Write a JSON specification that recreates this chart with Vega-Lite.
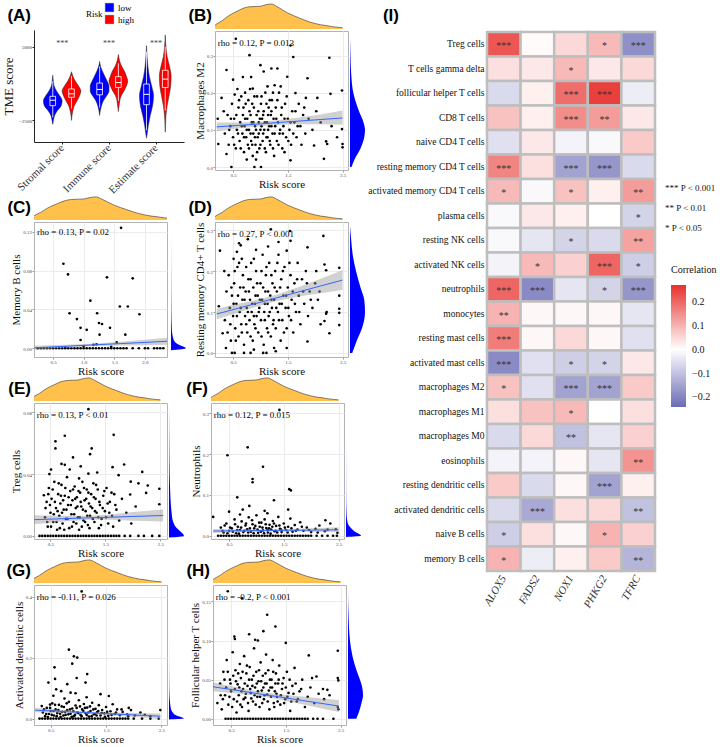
{
"$schema": "https://vega.github.io/schema/vega-lite/v6.json",
"background": "white",
"padding": {"left": 2, "top": 3, "right": 0, "bottom": 0},
"config": {
 "font": "Liberation Serif",
 "view": {"stroke": "#B3B3B3"},
 "axis": {"labelFont": "Liberation Serif", "titleFont": "Liberation Serif", "titleFontWeight": "normal", "titleColor": "#111111", "labelColor": "#4D4D4D", "labelFontSize": 5, "titleFontSize": 11, "tickSize": 2, "tickColor": "#999999", "domain": false, "gridColor": "#EBEBEB", "labelPadding": 0.5, "titlePadding": 1},
 "title": {"font": "Liberation Sans", "fontSize": 17, "fontWeight": "bold", "color": "black"},
 "legend": {"labelFont": "Liberation Serif", "titleFont": "Liberation Serif", "titleFontWeight": "normal"}
},
"resolve": {"scale": {"color": "independent", "fill": "independent"}, "legend": {"color": "independent", "fill": "independent"}},
"datasets": {
 "risk": [{"x":0.17,"d":0.15},{"x":0.2,"d":0.2},{"x":0.3,"d":0.33},{"x":0.4,"d":0.5},{"x":0.5,"d":0.63},{"x":0.6,"d":0.74},{"x":0.7,"d":0.84},{"x":0.8,"d":0.89},{"x":0.9,"d":0.9},{"x":1.0,"d":0.91},{"x":1.1,"d":0.97},{"x":1.2,"d":1.0},{"x":1.3,"d":0.9},{"x":1.4,"d":0.77},{"x":1.5,"d":0.64},{"x":1.6,"d":0.54},{"x":1.7,"d":0.45},{"x":1.8,"d":0.36},{"x":1.9,"d":0.28},{"x":2.0,"d":0.22},{"x":2.1,"d":0.17},{"x":2.2,"d":0.14},{"x":2.3,"d":0.1},{"x":2.4,"d":0.07},{"x":2.5,"d":0.05}],
 "violin": [
  {"v":"Sl","r":"low","y":-2900,"a":0.8,"b":0.8},{"v":"Sl","r":"low","y":-2500,"a":0.785,"b":0.815},{"v":"Sl","r":"low","y":-2000,"a":0.76,"b":0.84},{"v":"Sl","r":"low","y":-1500,"a":0.7,"b":0.9},{"v":"Sl","r":"low","y":-1000,"a":0.62,"b":0.98},{"v":"Sl","r":"low","y":-500,"a":0.6,"b":1.0},{"v":"Sl","r":"low","y":0,"a":0.65,"b":0.95},{"v":"Sl","r":"low","y":500,"a":0.72,"b":0.88},{"v":"Sl","r":"low","y":1000,"a":0.77,"b":0.83},{"v":"Sl","r":"low","y":1500,"a":0.788,"b":0.812},{"v":"Sl","r":"low","y":2100,"a":0.8,"b":0.8},
  {"v":"Sh","r":"high","y":-2500,"a":1.2,"b":1.2},{"v":"Sh","r":"high","y":-2000,"a":1.19,"b":1.21},{"v":"Sh","r":"high","y":-1500,"a":1.17,"b":1.23},{"v":"Sh","r":"high","y":-1000,"a":1.14,"b":1.26},{"v":"Sh","r":"high","y":-500,"a":1.08,"b":1.32},{"v":"Sh","r":"high","y":0,"a":1.03,"b":1.37},{"v":"Sh","r":"high","y":500,"a":1.0,"b":1.4},{"v":"Sh","r":"high","y":1000,"a":1.05,"b":1.35},{"v":"Sh","r":"high","y":1500,"a":1.12,"b":1.28},{"v":"Sh","r":"high","y":2000,"a":1.17,"b":1.23},{"v":"Sh","r":"high","y":2450,"a":1.2,"b":1.2},
  {"v":"Il","r":"low","y":-2000,"a":1.8,"b":1.8},{"v":"Il","r":"low","y":-1500,"a":1.785,"b":1.815},{"v":"Il","r":"low","y":-1000,"a":1.76,"b":1.84},{"v":"Il","r":"low","y":-500,"a":1.72,"b":1.88},{"v":"Il","r":"low","y":0,"a":1.65,"b":1.95},{"v":"Il","r":"low","y":500,"a":1.6,"b":2.0},{"v":"Il","r":"low","y":1000,"a":1.6,"b":2.0},{"v":"Il","r":"low","y":1500,"a":1.64,"b":1.96},{"v":"Il","r":"low","y":2000,"a":1.69,"b":1.91},{"v":"Il","r":"low","y":2500,"a":1.74,"b":1.86},{"v":"Il","r":"low","y":3000,"a":1.78,"b":1.82},{"v":"Il","r":"low","y":3500,"a":1.8,"b":1.8},
  {"v":"Ih","r":"high","y":-1600,"a":2.2,"b":2.2},{"v":"Ih","r":"high","y":-1000,"a":2.185,"b":2.215},{"v":"Ih","r":"high","y":-500,"a":2.17,"b":2.23},{"v":"Ih","r":"high","y":0,"a":2.14,"b":2.26},{"v":"Ih","r":"high","y":500,"a":2.08,"b":2.32},{"v":"Ih","r":"high","y":1000,"a":2.03,"b":2.37},{"v":"Ih","r":"high","y":1500,"a":2.0,"b":2.4},{"v":"Ih","r":"high","y":2000,"a":2.03,"b":2.37},{"v":"Ih","r":"high","y":2500,"a":2.07,"b":2.33},{"v":"Ih","r":"high","y":3000,"a":2.13,"b":2.27},{"v":"Ih","r":"high","y":3500,"a":2.17,"b":2.23},{"v":"Ih","r":"high","y":4200,"a":2.2,"b":2.2},
  {"v":"El","r":"low","y":-4300,"a":2.8,"b":2.8},{"v":"El","r":"low","y":-4000,"a":2.79,"b":2.81},{"v":"El","r":"low","y":-3000,"a":2.76,"b":2.84},{"v":"El","r":"low","y":-2000,"a":2.72,"b":2.88},{"v":"El","r":"low","y":-1000,"a":2.67,"b":2.93},{"v":"El","r":"low","y":0,"a":2.65,"b":2.95},{"v":"El","r":"low","y":1000,"a":2.69,"b":2.91},{"v":"El","r":"low","y":2000,"a":2.74,"b":2.86},{"v":"El","r":"low","y":3000,"a":2.77,"b":2.83},{"v":"El","r":"low","y":4000,"a":2.788,"b":2.812},{"v":"El","r":"low","y":5100,"a":2.8,"b":2.8},
  {"v":"Eh","r":"high","y":-3700,"a":3.2,"b":3.2},{"v":"Eh","r":"high","y":-3000,"a":3.195,"b":3.205},{"v":"Eh","r":"high","y":-2000,"a":3.185,"b":3.215},{"v":"Eh","r":"high","y":-1000,"a":3.16,"b":3.24},{"v":"Eh","r":"high","y":0,"a":3.12,"b":3.28},{"v":"Eh","r":"high","y":1000,"a":3.085,"b":3.315},{"v":"Eh","r":"high","y":2000,"a":3.075,"b":3.325},{"v":"Eh","r":"high","y":3000,"a":3.11,"b":3.29},{"v":"Eh","r":"high","y":4000,"a":3.16,"b":3.24},{"v":"Eh","r":"high","y":5000,"a":3.185,"b":3.215},{"v":"Eh","r":"high","y":6200,"a":3.2,"b":3.2}
 ],
 "box": [
  {"v":"Sl","xc":0.8,"xa":0.74,"xb":0.86,"q1":-1000,"q3":-50,"md":-450,"lo":-2200,"hi":1500},
  {"v":"Sh","xc":1.2,"xa":1.14,"xb":1.26,"q1":-150,"q3":700,"md":200,"lo":-1300,"hi":2000},
  {"v":"Il","xc":1.8,"xa":1.74,"xb":1.86,"q1":100,"q3":1300,"md":650,"lo":-1200,"hi":3000},
  {"v":"Ih","xc":2.2,"xa":2.14,"xb":2.26,"q1":850,"q3":1950,"md":1350,"lo":-500,"hi":3300},
  {"v":"El","xc":2.8,"xa":2.74,"xb":2.86,"q1":-900,"q3":1200,"md":150,"lo":-3500,"hi":4500},
  {"v":"Eh","xc":3.2,"xa":3.14,"xb":3.26,"q1":850,"q3":2600,"md":1700,"lo":-1500,"hi":5000}
 ],
 "stars": [{"gi":1,"t":"***"},{"gi":2,"t":"***"},{"gi":3,"t":"***"}],
 "B": [{"x":0.55,"y":0.345},{"x":1.55,"y":0.327},{"x":0.8,"y":0.301},{"x":1.6,"y":0.296},{"x":2.26,"y":0.294},{"x":0.38,"y":0.261},{"x":0.5,"y":0.235},{"x":0.68,"y":0.242},{"x":0.83,"y":0.242},{"x":1.06,"y":0.257},{"x":1.2,"y":0.265},{"x":1.31,"y":0.265},{"x":1.0,"y":0.274},{"x":1.49,"y":0.243},{"x":1.86,"y":0.239},{"x":2.49,"y":0.206},{"x":2.28,"y":0.197},{"x":0.29,"y":0.186},{"x":0.53,"y":0.195},{"x":0.86,"y":0.211},{"x":1.13,"y":0.217},{"x":1.37,"y":0.217},{"x":1.64,"y":0.199},{"x":1.83,"y":0.186},{"x":2.04,"y":0.186},{"x":2.49,"y":0.102},{"x":2.5,"y":0.062},{"x":2.5,"y":0.053},{"x":2.2,"y":0.069},{"x":2.22,"y":0.062},{"x":1.98,"y":0.058},{"x":2.16,"y":0.022},{"x":1.55,"y":0.018},{"x":0.47,"y":0.0},{"x":0.89,"y":0.0},{"x":1.01,"y":0.0},{"x":0.23,"y":0.062},{"x":0.38,"y":0.035},{"x":0.22,"y":0.13},
  {"x":0.35,"y":0.09},{"x":0.4,"y":0.14},{"x":0.42,"y":0.06},{"x":0.45,"y":0.11},{"x":0.48,"y":0.17},{"x":0.5,"y":0.08},{"x":0.52,"y":0.13},{"x":0.55,"y":0.05},{"x":0.57,"y":0.1},{"x":0.6,"y":0.16},{"x":0.62,"y":0.07},{"x":0.63,"y":0.12},{"x":0.65,"y":0.19},{"x":0.67,"y":0.09},{"x":0.68,"y":0.14},{"x":0.7,"y":0.04},{"x":0.71,"y":0.11},{"x":0.73,"y":0.17},{"x":0.74,"y":0.08},{"x":0.76,"y":0.13},{"x":0.77,"y":0.06},{"x":0.79,"y":0.1},{"x":0.8,"y":0.15},{"x":0.81,"y":0.21},{"x":0.83,"y":0.07},{"x":0.84,"y":0.12},{"x":0.86,"y":0.03},{"x":0.87,"y":0.09},{"x":0.88,"y":0.16},{"x":0.9,"y":0.11},{"x":0.91,"y":0.06},{"x":0.93,"y":0.14},{"x":0.94,"y":0.19},{"x":0.95,"y":0.08},{"x":0.97,"y":0.12},{"x":0.98,"y":0.05},{"x":1.0,"y":0.1},{"x":1.01,"y":0.17},{"x":1.03,"y":0.13},{"x":1.04,"y":0.07},{"x":1.06,"y":0.15},{"x":1.07,"y":0.1},{"x":1.09,"y":0.2},{"x":1.1,"y":0.04},{"x":1.12,"y":0.12},{"x":1.13,"y":0.08},{"x":1.15,"y":0.16},{"x":1.16,"y":0.11},{"x":1.18,"y":0.06},{"x":1.19,"y":0.14},{"x":1.21,"y":0.18},{"x":1.22,"y":0.09},{"x":1.24,"y":0.13},{"x":1.25,"y":0.03},{"x":1.27,"y":0.11},{"x":1.28,"y":0.16},{"x":1.3,"y":0.07},{"x":1.32,"y":0.12},{"x":1.34,"y":0.2},{"x":1.35,"y":0.09},{"x":1.38,"y":0.14},{"x":1.4,"y":0.05},{"x":1.42,"y":0.11},{"x":1.45,"y":0.17},{"x":1.47,"y":0.08},{"x":1.5,"y":0.13},{"x":1.53,"y":0.1},{"x":1.56,"y":0.06},{"x":1.58,"y":0.15},{"x":1.62,"y":0.12},{"x":1.66,"y":0.08},{"x":1.7,"y":0.17},{"x":1.73,"y":0.11},{"x":1.78,"y":0.14},{"x":1.82,"y":0.09},{"x":1.88,"y":0.13},{"x":1.95,"y":0.1},{"x":2.02,"y":0.15},{"x":2.1,"y":0.12},{"x":2.3,"y":0.11},{"x":2.4,"y":0.08},{"x":0.33,"y":0.15},{"x":0.58,"y":0.21},{"x":0.92,"y":0.02},{"x":1.26,"y":0.22},{"x":0.72,"y":0.2},{"x":1.44,"y":0.04},
  {"x":0.52,"y":0.06},{"x":0.56,"y":0.14},{"x":0.59,"y":0.09},{"x":0.61,"y":0.18},{"x":0.64,"y":0.05},{"x":0.66,"y":0.11},{"x":0.69,"y":0.16},{"x":0.7,"y":0.08},{"x":0.72,"y":0.13},{"x":0.75,"y":0.02},{"x":0.75,"y":0.1},{"x":0.78,"y":0.18},{"x":0.79,"y":0.05},{"x":0.82,"y":0.09},{"x":0.82,"y":0.14},{"x":0.85,"y":0.17},{"x":0.85,"y":0.06},{"x":0.87,"y":0.12},{"x":0.89,"y":0.19},{"x":0.9,"y":0.08},{"x":0.92,"y":0.1},{"x":0.94,"y":0.04},{"x":0.96,"y":0.15},{"x":0.97,"y":0.09},{"x":0.99,"y":0.13},{"x":1.0,"y":0.06},{"x":1.02,"y":0.11},{"x":1.02,"y":0.19},{"x":1.05,"y":0.09},{"x":1.05,"y":0.14},{"x":1.08,"y":0.05},{"x":1.08,"y":0.12},{"x":1.11,"y":0.17},{"x":1.11,"y":0.08},{"x":1.14,"y":0.1},{"x":1.14,"y":0.14},{"x":1.17,"y":0.18},{"x":1.17,"y":0.07},{"x":1.2,"y":0.11},{"x":1.2,"y":0.15},{"x":1.23,"y":0.05},{"x":1.23,"y":0.2},{"x":1.26,"y":0.09},{"x":1.29,"y":0.13},{"x":1.31,"y":0.18},{"x":1.33,"y":0.06},{"x":1.36,"y":0.1},{"x":1.39,"y":0.16},{"x":1.41,"y":0.09},{"x":1.44,"y":0.13},{"x":1.48,"y":0.19},{"x":1.51,"y":0.07},{"x":1.55,"y":0.12},{"x":1.6,"y":0.09},{"x":1.64,"y":0.15},{"x":1.68,"y":0.11},{"x":1.75,"y":0.06},{"x":1.8,"y":0.16},{"x":0.46,"y":0.13},{"x":0.43,"y":0.1}],
 "Bf": [{"x":0.2,"y":0.108,"lo":0.096,"hi":0.12},{"x":0.6,"y":0.112,"lo":0.104,"hi":0.12},{"x":1.0,"y":0.116,"lo":0.11,"hi":0.122},{"x":1.3,"y":0.1195,"lo":0.113,"hi":0.126},{"x":1.7,"y":0.1236,"lo":0.115,"hi":0.133},{"x":2.1,"y":0.1278,"lo":0.115,"hi":0.141},{"x":2.5,"y":0.132,"lo":0.114,"hi":0.152}],
 "Bd": [{"v":0,"d":0.1},{"v":0.02,"d":0.3},{"v":0.05,"d":0.7},{"v":0.08,"d":0.95},{"v":0.1,"d":1.0},{"v":0.12,"d":0.9},{"v":0.15,"d":0.6},{"v":0.18,"d":0.35},{"v":0.2,"d":0.22},{"v":0.25,"d":0.08},{"v":0.3,"d":0.03},{"v":0.35,"d":0.0}],
 "C": [{"x":1.61,"y":0.124},{"x":0.67,"y":0.087},{"x":0.745,"y":0.076},{"x":1.38,"y":0.073},{"x":1.8,"y":0.072},{"x":1.11,"y":0.049},{"x":1.59,"y":0.043},{"x":1.72,"y":0.043},{"x":0.77,"y":0.036},{"x":1.22,"y":0.036},{"x":1.91,"y":0.035},{"x":0.89,"y":0.03},{"x":1.3,"y":0.025},{"x":0.95,"y":0.021},{"x":1.05,"y":0.019},{"x":1.25,"y":0.026},{"x":1.43,"y":0.021},{"x":1.26,"y":0.014},{"x":1.68,"y":0.014},{"x":0.95,"y":0.0085},{"x":1.54,"y":0.006},{"x":1.16,"y":0.0035},{"x":1.21,"y":0.004},{"x":1.0,"y":0.002},{"x":0.7,"y":0.001},{"x":1.45,"y":0.0015},
  {"x":0.25,"y":0},{"x":0.3,"y":0},{"x":0.35,"y":0},{"x":0.4,"y":0},{"x":0.45,"y":0},{"x":0.5,"y":0},{"x":0.55,"y":0},{"x":0.6,"y":0},{"x":0.65,"y":0},{"x":0.7,"y":0},{"x":0.75,"y":0},{"x":0.8,"y":0},{"x":0.85,"y":0},{"x":0.9,"y":0},{"x":0.95,"y":0},{"x":1.0,"y":0},{"x":1.05,"y":0},{"x":1.1,"y":0},{"x":1.15,"y":0},{"x":1.2,"y":0},{"x":1.25,"y":0},{"x":1.3,"y":0},{"x":1.35,"y":0},{"x":1.4,"y":0},{"x":1.45,"y":0},{"x":1.5,"y":0},{"x":1.55,"y":0},{"x":1.6,"y":0},{"x":1.65,"y":0},{"x":1.7,"y":0},{"x":1.8,"y":0},{"x":1.9,"y":0},{"x":2.0,"y":0},{"x":2.05,"y":0},{"x":2.15,"y":0},{"x":2.2,"y":0},{"x":2.25,"y":0},{"x":2.3,"y":0}],
 "Cf": [{"x":0.2,"y":0.0005,"lo":-0.0015,"hi":0.0025},{"x":0.7,"y":0.002,"lo":0.0005,"hi":0.0035},{"x":1.2,"y":0.0036,"lo":0.0022,"hi":0.005},{"x":1.6,"y":0.0048,"lo":0.0028,"hi":0.0068},{"x":2.0,"y":0.006,"lo":0.0032,"hi":0.0088},{"x":2.36,"y":0.0072,"lo":0.0035,"hi":0.0109}],
 "Cd": [{"v":-0.002,"d":0},{"v":0,"d":1.0},{"v":0.002,"d":0.77},{"v":0.005,"d":0.38},{"v":0.01,"d":0.15},{"v":0.02,"d":0.055},{"v":0.04,"d":0.023},{"v":0.08,"d":0.008},{"v":0.125,"d":0}],
 "D": [{"x":0.26,"y":0.25},{"x":0.34,"y":0.2},{"x":0.51,"y":0.23},{"x":0.61,"y":0.268},{"x":0.64,"y":0.263},{"x":0.57,"y":0.247},{"x":0.77,"y":0.278},{"x":0.92,"y":0.252},{"x":1.19,"y":0.302},{"x":1.33,"y":0.271},{"x":1.54,"y":0.298},{"x":1.55,"y":0.274},{"x":1.86,"y":0.258},{"x":2.15,"y":0.286},{"x":2.17,"y":0.216},{"x":2.2,"y":0.202},{"x":2.44,"y":0.208},{"x":2.44,"y":0.14},{"x":2.44,"y":0.108},{"x":2.44,"y":0.098},{"x":2.44,"y":0.068},{"x":2.2,"y":0.096},{"x":2.21,"y":0.1},{"x":2.17,"y":0.078},{"x":0.24,"y":0.114},{"x":0.31,"y":0.048},{"x":0.37,"y":0.012},{"x":0.48,"y":0.0},{"x":0.53,"y":0},{"x":0.7,"y":0},{"x":0.82,"y":0},{"x":1.05,"y":0},{"x":1.11,"y":0},{"x":1.28,"y":0.004},{"x":0.88,"y":0.008},{"x":1.25,"y":0.012},{"x":1.48,"y":0.012},{"x":1.86,"y":0.028},{"x":2.26,"y":0.048},
  {"x":0.35,"y":0.08},{"x":0.38,"y":0.15},{"x":0.4,"y":0.05},{"x":0.42,"y":0.19},{"x":0.44,"y":0.11},{"x":0.46,"y":0.03},{"x":0.48,"y":0.14},{"x":0.5,"y":0.09},{"x":0.52,"y":0.17},{"x":0.54,"y":0.06},{"x":0.56,"y":0.12},{"x":0.58,"y":0.21},{"x":0.6,"y":0.04},{"x":0.62,"y":0.1},{"x":0.63,"y":0.16},{"x":0.65,"y":0.07},{"x":0.67,"y":0.13},{"x":0.68,"y":0.19},{"x":0.7,"y":0.02},{"x":0.72,"y":0.09},{"x":0.73,"y":0.15},{"x":0.75,"y":0.11},{"x":0.76,"y":0.05},{"x":0.78,"y":0.18},{"x":0.8,"y":0.08},{"x":0.81,"y":0.13},{"x":0.83,"y":0.22},{"x":0.84,"y":0.1},{"x":0.86,"y":0.03},{"x":0.87,"y":0.16},{"x":0.89,"y":0.07},{"x":0.9,"y":0.12},{"x":0.92,"y":0.2},{"x":0.93,"y":0.09},{"x":0.95,"y":0.14},{"x":0.96,"y":0.05},{"x":0.98,"y":0.11},{"x":1.0,"y":0.17},{"x":1.01,"y":0.08},{"x":1.03,"y":0.13},{"x":1.04,"y":0.24},{"x":1.06,"y":0.02},{"x":1.07,"y":0.1},{"x":1.09,"y":0.15},{"x":1.1,"y":0.19},{"x":1.12,"y":0.06},{"x":1.13,"y":0.12},{"x":1.15,"y":0.09},{"x":1.16,"y":0.22},{"x":1.18,"y":0.14},{"x":1.19,"y":0.04},{"x":1.21,"y":0.11},{"x":1.22,"y":0.17},{"x":1.24,"y":0.08},{"x":1.25,"y":0.13},{"x":1.27,"y":0.2},{"x":1.28,"y":0.06},{"x":1.3,"y":0.15},{"x":1.32,"y":0.1},{"x":1.33,"y":0.24},{"x":1.35,"y":0.12},{"x":1.37,"y":0.03},{"x":1.38,"y":0.18},{"x":1.4,"y":0.08},{"x":1.42,"y":0.14},{"x":1.44,"y":0.21},{"x":1.46,"y":0.11},{"x":1.48,"y":0.06},{"x":1.5,"y":0.16},{"x":1.52,"y":0.09},{"x":1.55,"y":0.19},{"x":1.57,"y":0.13},{"x":1.6,"y":0.05},{"x":1.62,"y":0.17},{"x":1.65,"y":0.1},{"x":1.68,"y":0.22},{"x":1.7,"y":0.14},{"x":1.73,"y":0.07},{"x":1.76,"y":0.18},{"x":1.8,"y":0.12},{"x":1.83,"y":0.2},{"x":1.87,"y":0.09},{"x":1.9,"y":0.15},{"x":1.95,"y":0.11},{"x":2.0,"y":0.17},{"x":2.05,"y":0.13},{"x":2.1,"y":0.07},{"x":1.14,"y":0.26},{"x":0.66,"y":0.23},{"x":1.48,"y":0.25},
  {"x":0.45,"y":0.07},{"x":0.47,"y":0.16},{"x":0.51,"y":0.12},{"x":0.53,"y":0.2},{"x":0.55,"y":0.03},{"x":0.57,"y":0.09},{"x":0.59,"y":0.14},{"x":0.61,"y":0.22},{"x":0.64,"y":0.11},{"x":0.66,"y":0.05},{"x":0.69,"y":0.16},{"x":0.71,"y":0.13},{"x":0.74,"y":0.07},{"x":0.74,"y":0.21},{"x":0.77,"y":0.1},{"x":0.79,"y":0.15},{"x":0.82,"y":0.04},{"x":0.82,"y":0.18},{"x":0.85,"y":0.12},{"x":0.88,"y":0.09},{"x":0.88,"y":0.23},{"x":0.91,"y":0.14},{"x":0.91,"y":0.06},{"x":0.94,"y":0.17},{"x":0.97,"y":0.1},{"x":0.99,"y":0.13},{"x":1.02,"y":0.04},{"x":1.02,"y":0.2},{"x":1.05,"y":0.16},{"x":1.08,"y":0.08},{"x":1.08,"y":0.12},{"x":1.11,"y":0.21},{"x":1.14,"y":0.15},{"x":1.14,"y":0.05},{"x":1.17,"y":0.1},{"x":1.2,"y":0.19},{"x":1.2,"y":0.13},{"x":1.23,"y":0.07},{"x":1.26,"y":0.16},{"x":1.29,"y":0.11},{"x":1.31,"y":0.22},{"x":1.34,"y":0.08},{"x":1.36,"y":0.16},{"x":1.39,"y":0.12},{"x":1.41,"y":0.2},{"x":1.43,"y":0.05},{"x":1.47,"y":0.14},{"x":1.51,"y":0.11},{"x":1.53,"y":0.22},{"x":1.56,"y":0.08},{"x":1.59,"y":0.15},{"x":1.63,"y":0.12},{"x":1.67,"y":0.18},{"x":1.71,"y":0.1},{"x":1.78,"y":0.15},{"x":1.85,"y":0.17},{"x":1.92,"y":0.13},{"x":2.02,"y":0.2},{"x":2.08,"y":0.15}],
 "Df": [{"x":0.2,"y":0.095,"lo":0.082,"hi":0.108},{"x":0.6,"y":0.1094,"lo":0.099,"hi":0.12},{"x":1.0,"y":0.1239,"lo":0.116,"hi":0.132},{"x":1.3,"y":0.1347,"lo":0.127,"hi":0.143},{"x":1.7,"y":0.1492,"lo":0.138,"hi":0.161},{"x":2.1,"y":0.1636,"lo":0.146,"hi":0.181},{"x":2.5,"y":0.178,"lo":0.154,"hi":0.202}],
 "Dd": [{"v":0,"d":0.15},{"v":0.03,"d":0.45},{"v":0.06,"d":0.8},{"v":0.1,"d":1.0},{"v":0.13,"d":0.95},{"v":0.16,"d":0.7},{"v":0.2,"d":0.4},{"v":0.24,"d":0.18},{"v":0.28,"d":0.07},{"v":0.31,"d":0.0}],
 "E": [{"x":1.19,"y":0.082},{"x":0.76,"y":0.0648},{"x":0.59,"y":0.0612},{"x":0.59,"y":0.0566},{"x":1.65,"y":0.0654},{"x":1.25,"y":0.0566},{"x":1.22,"y":0.0529},{"x":0.91,"y":0.0508},{"x":0.7,"y":0.0466},{"x":0.76,"y":0.046},{"x":0.51,"y":0.043},{"x":1.84,"y":0.0462},{"x":1.63,"y":0.0445},{"x":2.17,"y":0.0414},{"x":1.74,"y":0.0393},{"x":1.19,"y":0.0403},{"x":1.02,"y":0.0372},{"x":1.96,"y":0.0351},{"x":2.1,"y":0.034},{"x":2.27,"y":0.0326},{"x":2.48,"y":0.0305},{"x":2.48,"y":0.0205},{"x":1.95,"y":0.0268},{"x":2.24,"y":0.0278},{"x":0.38,"y":0.0263},
  {"x":0.4,"y":0.012},{"x":0.43,"y":0.022},{"x":0.45,"y":0.006},{"x":0.47,"y":0.031},{"x":0.5,"y":0.015},{"x":0.52,"y":0.024},{"x":0.55,"y":0.009},{"x":0.57,"y":0.035},{"x":0.6,"y":0.018},{"x":0.62,"y":0.004},{"x":0.64,"y":0.027},{"x":0.66,"y":0.013},{"x":0.68,"y":0.021},{"x":0.7,"y":0.033},{"x":0.72,"y":0.008},{"x":0.74,"y":0.017},{"x":0.76,"y":0.026},{"x":0.78,"y":0.011},{"x":0.8,"y":0.038},{"x":0.82,"y":0.02},{"x":0.84,"y":0.005},{"x":0.86,"y":0.029},{"x":0.88,"y":0.014},{"x":0.9,"y":0.023},{"x":0.92,"y":0.009},{"x":0.94,"y":0.032},{"x":0.96,"y":0.018},{"x":0.98,"y":0.025},{"x":1.0,"y":0.012},{"x":1.02,"y":0.004},{"x":1.04,"y":0.028},{"x":1.06,"y":0.019},{"x":1.08,"y":0.035},{"x":1.1,"y":0.01},{"x":1.12,"y":0.023},{"x":1.14,"y":0.016},{"x":1.16,"y":0.03},{"x":1.18,"y":0.007},{"x":1.2,"y":0.021},{"x":1.22,"y":0.013},{"x":1.24,"y":0.027},{"x":1.26,"y":0.018},{"x":1.28,"y":0.034},{"x":1.3,"y":0.009},{"x":1.32,"y":0.024},{"x":1.34,"y":0.015},{"x":1.36,"y":0.03},{"x":1.38,"y":0.005},{"x":1.4,"y":0.02},{"x":1.43,"y":0.011},{"x":1.46,"y":0.026},{"x":1.49,"y":0.016},{"x":1.52,"y":0.031},{"x":1.55,"y":0.008},{"x":1.58,"y":0.022},{"x":1.62,"y":0.013},{"x":1.66,"y":0.027},{"x":1.7,"y":0.017},{"x":1.75,"y":0.01},{"x":1.8,"y":0.024},{"x":1.88,"y":0.015},{"x":1.97,"y":0.008},{"x":2.05,"y":0.019},{"x":0.48,"y":0.04},{"x":0.85,"y":0.043},{"x":1.05,"y":0.045},{"x":1.35,"y":0.041},
  {"x":0.41,"y":0.018},{"x":0.44,"y":0.009},{"x":0.46,"y":0.027},{"x":0.49,"y":0.02},{"x":0.51,"y":0.006},{"x":0.54,"y":0.03},{"x":0.56,"y":0.014},{"x":0.58,"y":0.022},{"x":0.61,"y":0.009},{"x":0.63,"y":0.016},{"x":0.65,"y":0.034},{"x":0.67,"y":0.005},{"x":0.69,"y":0.026},{"x":0.71,"y":0.015},{"x":0.73,"y":0.023},{"x":0.75,"y":0.004},{"x":0.77,"y":0.031},{"x":0.79,"y":0.017},{"x":0.81,"y":0.011},{"x":0.83,"y":0.025},{"x":0.87,"y":0.02},{"x":0.89,"y":0.006},{"x":0.91,"y":0.03},{"x":0.93,"y":0.014},{"x":0.95,"y":0.024},{"x":0.97,"y":0.008},{"x":0.99,"y":0.019},{"x":1.01,"y":0.029},{"x":1.03,"y":0.012},{"x":1.05,"y":0.022},{"x":1.07,"y":0.006},{"x":1.09,"y":0.017},{"x":1.11,"y":0.031},{"x":1.13,"y":0.009},{"x":1.15,"y":0.024},{"x":1.17,"y":0.013},{"x":1.19,"y":0.028},{"x":1.21,"y":0.005},{"x":1.23,"y":0.019},{"x":1.27,"y":0.011},{"x":1.29,"y":0.025},{"x":1.31,"y":0.016},{"x":1.33,"y":0.033},{"x":1.37,"y":0.012},{"x":1.39,"y":0.022},{"x":1.42,"y":0.007},{"x":1.45,"y":0.018},{"x":1.48,"y":0.029},{"x":1.51,"y":0.012},{"x":1.54,"y":0.021},{"x":1.57,"y":0.015},{"x":1.61,"y":0.028},{"x":1.64,"y":0.006},{"x":1.68,"y":0.02},
  {"x":0.3,"y":0},{"x":0.35,"y":0},{"x":0.4,"y":0},{"x":0.45,"y":0},{"x":0.5,"y":0},{"x":0.55,"y":0},{"x":0.6,"y":0},{"x":0.65,"y":0},{"x":0.7,"y":0},{"x":0.75,"y":0},{"x":0.8,"y":0},{"x":0.85,"y":0},{"x":0.9,"y":0},{"x":0.95,"y":0},{"x":1.0,"y":0},{"x":1.05,"y":0},{"x":1.1,"y":0},{"x":1.15,"y":0},{"x":1.2,"y":0},{"x":1.25,"y":0},{"x":1.3,"y":0},{"x":1.35,"y":0},{"x":1.4,"y":0},{"x":1.45,"y":0},{"x":1.5,"y":0},{"x":1.55,"y":0},{"x":1.6,"y":0},{"x":1.65,"y":0},{"x":1.7,"y":0},{"x":1.75,"y":0},{"x":1.85,"y":0},{"x":1.95,"y":0},{"x":2.1,"y":0},{"x":2.2,"y":0},{"x":2.35,"y":0},{"x":2.48,"y":0}],
 "Ef": [{"x":0.2,"y":0.0105,"lo":0.0076,"hi":0.0134},{"x":0.7,"y":0.0111,"lo":0.0092,"hi":0.013},{"x":1.2,"y":0.0117,"lo":0.0104,"hi":0.013},{"x":1.6,"y":0.0121,"lo":0.0104,"hi":0.0138},{"x":2.0,"y":0.0126,"lo":0.0098,"hi":0.0154},{"x":2.55,"y":0.0132,"lo":0.0093,"hi":0.0171}],
 "Ed": [{"v":-0.001,"d":0},{"v":0,"d":1.0},{"v":0.003,"d":0.75},{"v":0.006,"d":0.44},{"v":0.01,"d":0.25},{"v":0.015,"d":0.175},{"v":0.02,"d":0.125},{"v":0.03,"d":0.075},{"v":0.04,"d":0.044},{"v":0.06,"d":0.019},{"v":0.08,"d":0.003},{"v":0.085,"d":0}],
 "F": [{"x":1.42,"y":0.308},{"x":0.84,"y":0.2165},{"x":0.47,"y":0.197},{"x":1.12,"y":0.169},{"x":0.93,"y":0.139},{"x":0.93,"y":0.131},{"x":1.6,"y":0.114},{"x":1.63,"y":0.111},{"x":0.65,"y":0.094},{"x":1.32,"y":0.087},{"x":0.5,"y":0.059},{"x":0.75,"y":0.064},{"x":1.58,"y":0.064},{"x":0.21,"y":0.046},{"x":2.26,"y":0.038},{"x":1.15,"y":0.061},{"x":0.87,"y":0.073},
  {"x":0.35,"y":0.02},{"x":0.4,"y":0.008},{"x":0.45,"y":0.03},{"x":0.5,"y":0.012},{"x":0.55,"y":0.018},{"x":0.6,"y":0.04},{"x":0.63,"y":0.006},{"x":0.66,"y":0.022},{"x":0.7,"y":0.014},{"x":0.73,"y":0.035},{"x":0.76,"y":0.009},{"x":0.8,"y":0.025},{"x":0.83,"y":0.016},{"x":0.86,"y":0.045},{"x":0.9,"y":0.01},{"x":0.93,"y":0.028},{"x":0.96,"y":0.018},{"x":1.0,"y":0.05},{"x":1.03,"y":0.007},{"x":1.06,"y":0.022},{"x":1.09,"y":0.032},{"x":1.12,"y":0.013},{"x":1.15,"y":0.04},{"x":1.18,"y":0.019},{"x":1.21,"y":0.008},{"x":1.24,"y":0.027},{"x":1.27,"y":0.015},{"x":1.3,"y":0.036},{"x":1.33,"y":0.011},{"x":1.36,"y":0.024},{"x":1.4,"y":0.046},{"x":1.43,"y":0.017},{"x":1.46,"y":0.009},{"x":1.5,"y":0.03},{"x":1.54,"y":0.014},{"x":1.58,"y":0.022},{"x":1.62,"y":0.042},{"x":1.66,"y":0.01},{"x":1.7,"y":0.026},{"x":1.75,"y":0.015},{"x":1.8,"y":0.033},{"x":1.86,"y":0.012},{"x":1.92,"y":0.02},{"x":2.0,"y":0.009},{"x":2.08,"y":0.017},{"x":2.15,"y":0.025},{"x":2.25,"y":0.011},{"x":2.35,"y":0.03},{"x":2.45,"y":0.016},{"x":2.48,"y":0.007},{"x":1.2,"y":0.055},{"x":0.7,"y":0.052},
  {"x":0.38,"y":0.012},{"x":0.42,"y":0.025},{"x":0.47,"y":0.006},{"x":0.52,"y":0.02},{"x":0.57,"y":0.01},{"x":0.61,"y":0.028},{"x":0.65,"y":0.014},{"x":0.68,"y":0.005},{"x":0.72,"y":0.02},{"x":0.78,"y":0.012},{"x":0.81,"y":0.03},{"x":0.85,"y":0.008},{"x":0.88,"y":0.018},{"x":0.92,"y":0.038},{"x":0.95,"y":0.006},{"x":0.98,"y":0.024},{"x":1.02,"y":0.015},{"x":1.05,"y":0.032},{"x":1.08,"y":0.01},{"x":1.11,"y":0.02},{"x":1.14,"y":0.006},{"x":1.17,"y":0.028},{"x":1.2,"y":0.014},{"x":1.23,"y":0.018},{"x":1.26,"y":0.005},{"x":1.29,"y":0.022},{"x":1.32,"y":0.03},{"x":1.35,"y":0.012},{"x":1.38,"y":0.008},{"x":1.42,"y":0.025},{"x":1.45,"y":0.015},{"x":1.52,"y":0.02},{"x":1.57,"y":0.008},{"x":1.64,"y":0.018},{"x":1.72,"y":0.012},{"x":1.83,"y":0.022},{"x":1.96,"y":0.014},{"x":2.12,"y":0.008},{"x":2.3,"y":0.015},
  {"x":0.3,"y":0},{"x":0.35,"y":0},{"x":0.4,"y":0},{"x":0.45,"y":0},{"x":0.5,"y":0},{"x":0.55,"y":0},{"x":0.6,"y":0},{"x":0.65,"y":0},{"x":0.7,"y":0},{"x":0.75,"y":0},{"x":0.8,"y":0},{"x":0.85,"y":0},{"x":0.9,"y":0},{"x":0.95,"y":0},{"x":1.0,"y":0},{"x":1.05,"y":0},{"x":1.1,"y":0},{"x":1.15,"y":0},{"x":1.2,"y":0},{"x":1.25,"y":0},{"x":1.3,"y":0},{"x":1.35,"y":0},{"x":1.4,"y":0},{"x":1.45,"y":0},{"x":1.5,"y":0},{"x":1.55,"y":0},{"x":1.6,"y":0},{"x":1.65,"y":0},{"x":1.7,"y":0},{"x":1.75,"y":0},{"x":1.8,"y":0},{"x":1.85,"y":0},{"x":1.9,"y":0},{"x":1.95,"y":0},{"x":2.0,"y":0},{"x":2.1,"y":0},{"x":2.2,"y":0},{"x":2.3,"y":0},{"x":2.4,"y":0},{"x":2.47,"y":0}],
 "Ff": [{"x":0.21,"y":0.0115,"lo":0.0065,"hi":0.0165},{"x":0.7,"y":0.0121,"lo":0.0088,"hi":0.0154},{"x":1.2,"y":0.0128,"lo":0.0103,"hi":0.0153},{"x":1.6,"y":0.0133,"lo":0.0103,"hi":0.0163},{"x":2.0,"y":0.0138,"lo":0.0095,"hi":0.0181},{"x":2.5,"y":0.0145,"lo":0.0085,"hi":0.0205}],
 "Fd": [{"v":-0.003,"d":0},{"v":0,"d":1.0},{"v":0.005,"d":0.85},{"v":0.01,"d":0.6},{"v":0.02,"d":0.3},{"v":0.03,"d":0.12},{"v":0.05,"d":0.04},{"v":0.1,"d":0.01},{"v":0.2,"d":0.003},{"v":0.31,"d":0}],
 "G": [{"x":1.06,"y":0.417},{"x":0.83,"y":0.226},{"x":0.92,"y":0.204},{"x":0.98,"y":0.2},{"x":0.89,"y":0.18},{"x":0.57,"y":0.168},{"x":0.97,"y":0.133},{"x":1.16,"y":0.146},{"x":0.58,"y":0.13},{"x":0.46,"y":0.118},{"x":1.13,"y":0.118},{"x":0.8,"y":0.113},{"x":0.6,"y":0.096},{"x":0.69,"y":0.09},{"x":0.86,"y":0.085},{"x":0.95,"y":0.083},{"x":1.4,"y":0.08},{"x":1.55,"y":0.074},{"x":1.91,"y":0.035},{"x":2.48,"y":0.028},{"x":0.49,"y":0.046},{"x":0.34,"y":0.041},
  {"x":0.36,"y":0.02},{"x":0.4,"y":0.008},{"x":0.43,"y":0.035},{"x":0.47,"y":0.015},{"x":0.5,"y":0.025},{"x":0.53,"y":0.05},{"x":0.56,"y":0.01},{"x":0.59,"y":0.03},{"x":0.62,"y":0.018},{"x":0.65,"y":0.045},{"x":0.68,"y":0.006},{"x":0.71,"y":0.022},{"x":0.74,"y":0.038},{"x":0.77,"y":0.012},{"x":0.8,"y":0.028},{"x":0.83,"y":0.055},{"x":0.86,"y":0.016},{"x":0.89,"y":0.033},{"x":0.92,"y":0.008},{"x":0.95,"y":0.043},{"x":0.98,"y":0.02},{"x":1.01,"y":0.06},{"x":1.04,"y":0.012},{"x":1.07,"y":0.03},{"x":1.1,"y":0.048},{"x":1.13,"y":0.018},{"x":1.16,"y":0.036},{"x":1.19,"y":0.007},{"x":1.22,"y":0.025},{"x":1.25,"y":0.052},{"x":1.28,"y":0.014},{"x":1.31,"y":0.032},{"x":1.34,"y":0.021},{"x":1.37,"y":0.044},{"x":1.4,"y":0.01},{"x":1.43,"y":0.028},{"x":1.47,"y":0.017},{"x":1.5,"y":0.038},{"x":1.54,"y":0.009},{"x":1.58,"y":0.024},{"x":1.62,"y":0.047},{"x":1.66,"y":0.015},{"x":1.7,"y":0.03},{"x":1.75,"y":0.011},{"x":1.8,"y":0.022},{"x":1.88,"y":0.014},{"x":1.95,"y":0.028},{"x":2.02,"y":0.01},{"x":2.12,"y":0.02},{"x":2.2,"y":0.012},{"x":2.3,"y":0.008},{"x":0.75,"y":0.066},{"x":1.15,"y":0.07},{"x":0.55,"y":0.075},
  {"x":0.38,"y":0.03},{"x":0.42,"y":0.015},{"x":0.45,"y":0.005},{"x":0.49,"y":0.035},{"x":0.52,"y":0.012},{"x":0.55,"y":0.025},{"x":0.58,"y":0.045},{"x":0.61,"y":0.008},{"x":0.64,"y":0.028},{"x":0.67,"y":0.016},{"x":0.7,"y":0.04},{"x":0.73,"y":0.01},{"x":0.76,"y":0.022},{"x":0.79,"y":0.05},{"x":0.82,"y":0.014},{"x":0.85,"y":0.03},{"x":0.88,"y":0.006},{"x":0.91,"y":0.024},{"x":0.94,"y":0.012},{"x":0.97,"y":0.035},{"x":1.0,"y":0.018},{"x":1.03,"y":0.04},{"x":1.06,"y":0.008},{"x":1.09,"y":0.025},{"x":1.12,"y":0.035},{"x":1.15,"y":0.012},{"x":1.18,"y":0.02},{"x":1.21,"y":0.04},{"x":1.24,"y":0.008},{"x":1.27,"y":0.03},{"x":1.3,"y":0.015},{"x":1.33,"y":0.01},{"x":1.36,"y":0.025},{"x":1.42,"y":0.018},{"x":1.48,"y":0.006},{"x":1.52,"y":0.022},{"x":1.6,"y":0.012},{"x":1.68,"y":0.02},{"x":1.78,"y":0.03},{"x":1.9,"y":0.008},
  {"x":0.3,"y":0},{"x":0.35,"y":0},{"x":0.4,"y":0},{"x":0.45,"y":0},{"x":0.5,"y":0},{"x":0.55,"y":0},{"x":0.6,"y":0},{"x":0.65,"y":0},{"x":0.7,"y":0},{"x":0.75,"y":0},{"x":0.8,"y":0},{"x":0.85,"y":0},{"x":0.9,"y":0},{"x":0.95,"y":0},{"x":1.0,"y":0},{"x":1.05,"y":0},{"x":1.1,"y":0},{"x":1.15,"y":0},{"x":1.2,"y":0},{"x":1.25,"y":0},{"x":1.3,"y":0},{"x":1.35,"y":0},{"x":1.4,"y":0},{"x":1.45,"y":0},{"x":1.5,"y":0},{"x":1.55,"y":0},{"x":1.6,"y":0},{"x":1.65,"y":0},{"x":1.7,"y":0},{"x":1.75,"y":0},{"x":1.8,"y":0},{"x":1.85,"y":0},{"x":1.9,"y":0},{"x":2.0,"y":0},{"x":2.15,"y":0},{"x":2.3,"y":0},{"x":2.45,"y":0}],
 "Gf": [{"x":0.22,"y":0.0277,"lo":0.0205,"hi":0.0349},{"x":0.7,"y":0.0235,"lo":0.0185,"hi":0.0285},{"x":1.1,"y":0.02,"lo":0.0165,"hi":0.0235},{"x":1.5,"y":0.0164,"lo":0.0125,"hi":0.0203},{"x":2.0,"y":0.012,"lo":0.0055,"hi":0.0185},{"x":2.48,"y":0.0078,"lo":-0.0012,"hi":0.0168}],
 "Gd": [{"v":-0.003,"d":0},{"v":0,"d":1.0},{"v":0.005,"d":0.81},{"v":0.01,"d":0.5},{"v":0.02,"d":0.25},{"v":0.03,"d":0.14},{"v":0.05,"d":0.075},{"v":0.08,"d":0.03},{"v":0.12,"d":0.012},{"v":0.2,"d":0.004},{"v":0.42,"d":0}],
 "H": [{"x":0.44,"y":0.163},{"x":0.7,"y":0.154},{"x":1.16,"y":0.133},{"x":1.31,"y":0.118},{"x":1.09,"y":0.112},{"x":1.5,"y":0.097},{"x":0.83,"y":0.108},{"x":0.94,"y":0.101},{"x":0.99,"y":0.1},{"x":0.56,"y":0.105},{"x":0.57,"y":0.102},{"x":1.92,"y":0.081},{"x":2.45,"y":0.087},{"x":2.06,"y":0.054},{"x":1.98,"y":0.052},{"x":2.45,"y":0.052},{"x":2.46,"y":0.049},{"x":2.18,"y":0.038},{"x":2.26,"y":0.037},{"x":2.45,"y":0.015},{"x":2.46,"y":0.012},{"x":2.37,"y":0},{"x":2.18,"y":0},
  {"x":0.25,"y":0.02},{"x":0.3,"y":0.045},{"x":0.33,"y":0.012},{"x":0.36,"y":0.06},{"x":0.39,"y":0.03},{"x":0.42,"y":0.075},{"x":0.45,"y":0.018},{"x":0.48,"y":0.05},{"x":0.5,"y":0.035},{"x":0.53,"y":0.085},{"x":0.55,"y":0.025},{"x":0.58,"y":0.062},{"x":0.6,"y":0.008},{"x":0.62,"y":0.044},{"x":0.64,"y":0.03},{"x":0.66,"y":0.07},{"x":0.68,"y":0.052},{"x":0.7,"y":0.015},{"x":0.72,"y":0.038},{"x":0.74,"y":0.08},{"x":0.76,"y":0.027},{"x":0.78,"y":0.058},{"x":0.8,"y":0.042},{"x":0.82,"y":0.01},{"x":0.84,"y":0.066},{"x":0.86,"y":0.033},{"x":0.88,"y":0.05},{"x":0.9,"y":0.022},{"x":0.92,"y":0.09},{"x":0.94,"y":0.04},{"x":0.96,"y":0.06},{"x":0.98,"y":0.028},{"x":1.0,"y":0.048},{"x":1.02,"y":0.015},{"x":1.04,"y":0.072},{"x":1.06,"y":0.036},{"x":1.08,"y":0.055},{"x":1.1,"y":0.025},{"x":1.12,"y":0.045},{"x":1.14,"y":0.082},{"x":1.16,"y":0.031},{"x":1.18,"y":0.062},{"x":1.2,"y":0.012},{"x":1.22,"y":0.04},{"x":1.24,"y":0.05},{"x":1.26,"y":0.075},{"x":1.28,"y":0.02},{"x":1.3,"y":0.035},{"x":1.32,"y":0.058},{"x":1.34,"y":0.028},{"x":1.36,"y":0.045},{"x":1.38,"y":0.068},{"x":1.4,"y":0.018},{"x":1.43,"y":0.038},{"x":1.46,"y":0.052},{"x":1.49,"y":0.025},{"x":1.52,"y":0.06},{"x":1.55,"y":0.033},{"x":1.58,"y":0.01},{"x":1.62,"y":0.042},{"x":1.66,"y":0.065},{"x":1.7,"y":0.022},{"x":1.75,"y":0.035},{"x":1.8,"y":0.05},{"x":1.85,"y":0.015},{"x":1.9,"y":0.028},{"x":1.95,"y":0.04},{"x":2.02,"y":0.02},{"x":2.1,"y":0.032},{"x":2.2,"y":0.025},{"x":2.3,"y":0.03},
  {"x":0.31,"y":0.03},{"x":0.35,"y":0.025},{"x":0.38,"y":0.05},{"x":0.41,"y":0.04},{"x":0.44,"y":0.06},{"x":0.47,"y":0.028},{"x":0.49,"y":0.045},{"x":0.52,"y":0.015},{"x":0.54,"y":0.055},{"x":0.57,"y":0.038},{"x":0.59,"y":0.048},{"x":0.61,"y":0.022},{"x":0.63,"y":0.058},{"x":0.65,"y":0.04},{"x":0.67,"y":0.018},{"x":0.69,"y":0.035},{"x":0.71,"y":0.06},{"x":0.73,"y":0.025},{"x":0.75,"y":0.045},{"x":0.77,"y":0.032},{"x":0.79,"y":0.068},{"x":0.81,"y":0.02},{"x":0.83,"y":0.05},{"x":0.85,"y":0.038},{"x":0.87,"y":0.026},{"x":0.89,"y":0.042},{"x":0.91,"y":0.055},{"x":0.93,"y":0.03},{"x":0.95,"y":0.018},{"x":0.97,"y":0.045},{"x":0.99,"y":0.035},{"x":1.01,"y":0.062},{"x":1.03,"y":0.028},{"x":1.05,"y":0.048},{"x":1.07,"y":0.02},{"x":1.09,"y":0.04},{"x":1.11,"y":0.03},{"x":1.13,"y":0.058},{"x":1.15,"y":0.045},{"x":1.17,"y":0.022},{"x":1.19,"y":0.036},{"x":1.21,"y":0.05},{"x":1.23,"y":0.028},{"x":1.25,"y":0.04},{"x":1.27,"y":0.06},{"x":1.29,"y":0.015},{"x":1.31,"y":0.045},{"x":1.33,"y":0.032},{"x":1.35,"y":0.022},{"x":1.37,"y":0.05},{"x":1.41,"y":0.03},{"x":1.44,"y":0.045},{"x":1.47,"y":0.02},{"x":1.5,"y":0.04},{"x":1.53,"y":0.028},{"x":1.57,"y":0.05},{"x":1.6,"y":0.022},{"x":1.64,"y":0.032},{"x":1.68,"y":0.045},{"x":1.72,"y":0.025},{"x":1.78,"y":0.038},
  {"x":0.4,"y":0},{"x":0.45,"y":0},{"x":0.5,"y":0},{"x":0.55,"y":0},{"x":0.6,"y":0},{"x":0.65,"y":0},{"x":0.7,"y":0},{"x":0.75,"y":0},{"x":0.8,"y":0},{"x":0.85,"y":0},{"x":0.9,"y":0},{"x":0.95,"y":0},{"x":1.0,"y":0},{"x":1.05,"y":0},{"x":1.1,"y":0},{"x":1.15,"y":0},{"x":1.2,"y":0},{"x":1.25,"y":0},{"x":1.3,"y":0},{"x":1.35,"y":0},{"x":1.4,"y":0},{"x":1.45,"y":0},{"x":1.5,"y":0},{"x":1.55,"y":0},{"x":1.6,"y":0},{"x":1.65,"y":0},{"x":1.7,"y":0},{"x":1.75,"y":0},{"x":1.8,"y":0},{"x":1.85,"y":0},{"x":1.9,"y":0},{"x":2.0,"y":0},{"x":2.08,"y":0}],
 "Hf": [{"x":0.17,"y":0.0409,"lo":0.0352,"hi":0.0466},{"x":0.6,"y":0.0363,"lo":0.0322,"hi":0.0404},{"x":1.0,"y":0.032,"lo":0.0293,"hi":0.0347},{"x":1.4,"y":0.0277,"lo":0.0243,"hi":0.0311},{"x":1.8,"y":0.0234,"lo":0.0185,"hi":0.0283},{"x":2.2,"y":0.0191,"lo":0.0125,"hi":0.0257},{"x":2.47,"y":0.0162,"lo":0.0085,"hi":0.0239}],
 "Hd": [{"v":0,"d":0.55},{"v":0.01,"d":0.75},{"v":0.02,"d":0.9},{"v":0.03,"d":1.0},{"v":0.04,"d":0.95},{"v":0.05,"d":0.8},{"v":0.06,"d":0.6},{"v":0.08,"d":0.3},{"v":0.1,"d":0.13},{"v":0.13,"d":0.04},{"v":0.16,"d":0.0}],
 "heat": [
  {"c":"Treg cells","g":"ALOX5","r":0.22,"s":"***"},{"c":"Treg cells","g":"FADS2","r":0.005,"s":""},{"c":"Treg cells","g":"NOX1","r":0.05,"s":""},{"c":"Treg cells","g":"PHKG2","r":0.09,"s":"*"},{"c":"Treg cells","g":"TFRC","r":-0.18,"s":"***"},
  {"c":"T cells gamma delta","g":"ALOX5","r":0.04,"s":""},{"c":"T cells gamma delta","g":"FADS2","r":0.03,"s":""},{"c":"T cells gamma delta","g":"NOX1","r":0.09,"s":"*"},{"c":"T cells gamma delta","g":"PHKG2","r":0.03,"s":""},{"c":"T cells gamma delta","g":"TFRC","r":0.05,"s":""},
  {"c":"follicular helper T cells","g":"ALOX5","r":-0.06,"s":""},{"c":"follicular helper T cells","g":"FADS2","r":0.02,"s":""},{"c":"follicular helper T cells","g":"NOX1","r":0.19,"s":"***"},{"c":"follicular helper T cells","g":"PHKG2","r":0.25,"s":"***"},{"c":"follicular helper T cells","g":"TFRC","r":-0.03,"s":""},
  {"c":"CD8 T cells","g":"ALOX5","r":0.08,"s":""},{"c":"CD8 T cells","g":"FADS2","r":0.02,"s":""},{"c":"CD8 T cells","g":"NOX1","r":0.15,"s":"***"},{"c":"CD8 T cells","g":"PHKG2","r":0.13,"s":"**"},{"c":"CD8 T cells","g":"TFRC","r":0.03,"s":""},
  {"c":"naive CD4 T cells","g":"ALOX5","r":-0.05,"s":""},{"c":"naive CD4 T cells","g":"FADS2","r":0.03,"s":""},{"c":"naive CD4 T cells","g":"NOX1","r":-0.02,"s":""},{"c":"naive CD4 T cells","g":"PHKG2","r":-0.01,"s":""},{"c":"naive CD4 T cells","g":"TFRC","r":0.07,"s":""},
  {"c":"resting memory CD4 T cells","g":"ALOX5","r":0.16,"s":"***"},{"c":"resting memory CD4 T cells","g":"FADS2","r":0.04,"s":""},{"c":"resting memory CD4 T cells","g":"NOX1","r":-0.15,"s":"***"},{"c":"resting memory CD4 T cells","g":"PHKG2","r":-0.17,"s":"***"},{"c":"resting memory CD4 T cells","g":"TFRC","r":-0.06,"s":""},
  {"c":"activated memory CD4 T cells","g":"ALOX5","r":0.09,"s":"*"},{"c":"activated memory CD4 T cells","g":"FADS2","r":-0.01,"s":""},{"c":"activated memory CD4 T cells","g":"NOX1","r":0.08,"s":"*"},{"c":"activated memory CD4 T cells","g":"PHKG2","r":0.02,"s":""},{"c":"activated memory CD4 T cells","g":"TFRC","r":0.13,"s":"**"},
  {"c":"plasma cells","g":"ALOX5","r":-0.01,"s":""},{"c":"plasma cells","g":"FADS2","r":0.03,"s":""},{"c":"plasma cells","g":"NOX1","r":0.02,"s":""},{"c":"plasma cells","g":"PHKG2","r":0.0,"s":""},{"c":"plasma cells","g":"TFRC","r":-0.07,"s":"*"},
  {"c":"resting NK cells","g":"ALOX5","r":-0.01,"s":""},{"c":"resting NK cells","g":"FADS2","r":-0.04,"s":""},{"c":"resting NK cells","g":"NOX1","r":-0.07,"s":"*"},{"c":"resting NK cells","g":"PHKG2","r":-0.06,"s":""},{"c":"resting NK cells","g":"TFRC","r":0.12,"s":"**"},
  {"c":"activated NK cells","g":"ALOX5","r":-0.02,"s":""},{"c":"activated NK cells","g":"FADS2","r":0.09,"s":"*"},{"c":"activated NK cells","g":"NOX1","r":0.06,"s":""},{"c":"activated NK cells","g":"PHKG2","r":0.2,"s":"***"},{"c":"activated NK cells","g":"TFRC","r":-0.08,"s":"*"},
  {"c":"neutrophils","g":"ALOX5","r":0.2,"s":"***"},{"c":"neutrophils","g":"FADS2","r":-0.19,"s":"***"},{"c":"neutrophils","g":"NOX1","r":-0.04,"s":""},{"c":"neutrophils","g":"PHKG2","r":-0.07,"s":"*"},{"c":"neutrophils","g":"TFRC","r":-0.17,"s":"***"},
  {"c":"monocytes","g":"ALOX5","r":0.1,"s":"**"},{"c":"monocytes","g":"FADS2","r":0.01,"s":""},{"c":"monocytes","g":"NOX1","r":0.01,"s":""},{"c":"monocytes","g":"PHKG2","r":0.01,"s":""},{"c":"monocytes","g":"TFRC","r":-0.04,"s":""},
  {"c":"resting mast cells","g":"ALOX5","r":0.17,"s":"***"},{"c":"resting mast cells","g":"FADS2","r":0.01,"s":""},{"c":"resting mast cells","g":"NOX1","r":0.05,"s":""},{"c":"resting mast cells","g":"PHKG2","r":0.01,"s":""},{"c":"resting mast cells","g":"TFRC","r":-0.05,"s":""},
  {"c":"activated mast cells","g":"ALOX5","r":-0.19,"s":"***"},{"c":"activated mast cells","g":"FADS2","r":-0.05,"s":""},{"c":"activated mast cells","g":"NOX1","r":-0.08,"s":"*"},{"c":"activated mast cells","g":"PHKG2","r":-0.07,"s":"*"},{"c":"activated mast cells","g":"TFRC","r":0.03,"s":""},
  {"c":"macrophages M2","g":"ALOX5","r":0.08,"s":"*"},{"c":"macrophages M2","g":"FADS2","r":-0.05,"s":""},{"c":"macrophages M2","g":"NOX1","r":-0.15,"s":"***"},{"c":"macrophages M2","g":"PHKG2","r":-0.15,"s":"***"},{"c":"macrophages M2","g":"TFRC","r":0.07,"s":""},
  {"c":"macrophages M1","g":"ALOX5","r":0.04,"s":""},{"c":"macrophages M1","g":"FADS2","r":0.08,"s":""},{"c":"macrophages M1","g":"NOX1","r":0.09,"s":"*"},{"c":"macrophages M1","g":"PHKG2","r":0.0,"s":""},{"c":"macrophages M1","g":"TFRC","r":0.04,"s":""},
  {"c":"macrophages M0","g":"ALOX5","r":-0.06,"s":""},{"c":"macrophages M0","g":"FADS2","r":0.05,"s":""},{"c":"macrophages M0","g":"NOX1","r":-0.1,"s":"**"},{"c":"macrophages M0","g":"PHKG2","r":-0.04,"s":""},{"c":"macrophages M0","g":"TFRC","r":0.06,"s":""},
  {"c":"eosinophils","g":"ALOX5","r":-0.02,"s":""},{"c":"eosinophils","g":"FADS2","r":-0.02,"s":""},{"c":"eosinophils","g":"NOX1","r":0.01,"s":""},{"c":"eosinophils","g":"PHKG2","r":-0.04,"s":""},{"c":"eosinophils","g":"TFRC","r":0.14,"s":"**"},
  {"c":"resting dendritic cells","g":"ALOX5","r":0.07,"s":""},{"c":"resting dendritic cells","g":"FADS2","r":-0.06,"s":""},{"c":"resting dendritic cells","g":"NOX1","r":0.01,"s":""},{"c":"resting dendritic cells","g":"PHKG2","r":-0.15,"s":"***"},{"c":"resting dendritic cells","g":"TFRC","r":0.02,"s":""},
  {"c":"activated dendritic cells","g":"ALOX5","r":-0.06,"s":""},{"c":"activated dendritic cells","g":"FADS2","r":-0.14,"s":"***"},{"c":"activated dendritic cells","g":"NOX1","r":0.04,"s":""},{"c":"activated dendritic cells","g":"PHKG2","r":0.05,"s":""},{"c":"activated dendritic cells","g":"TFRC","r":-0.1,"s":"**"},
  {"c":"naive  B cells","g":"ALOX5","r":-0.08,"s":"*"},{"c":"naive  B cells","g":"FADS2","r":0.04,"s":""},{"c":"naive  B cells","g":"NOX1","r":0.01,"s":""},{"c":"naive  B cells","g":"PHKG2","r":0.1,"s":"*"},{"c":"naive  B cells","g":"TFRC","r":0.06,"s":""},
  {"c":"memory B cells","g":"ALOX5","r":0.1,"s":"*"},{"c":"memory B cells","g":"FADS2","r":-0.03,"s":""},{"c":"memory B cells","g":"NOX1","r":0.02,"s":""},{"c":"memory B cells","g":"PHKG2","r":0.07,"s":""},{"c":"memory B cells","g":"TFRC","r":-0.12,"s":"**"}
 ]
},
"hconcat": [
 {"vconcat": [
  {"hconcat": [
   {"vconcat": [
     {"width": 150, "height": 26, "view": {"stroke": null}, "title": {"text": "(A)", "orient": "left", "angle": 0, "align": "left", "baseline": "middle", "anchor": "middle", "offset": 3},
      "data": {"values": [{"r": "low"}, {"r": "high"}]}, "mark": {"type": "square", "opacity": 0},
      "encoding": {"color": {"field": "r", "type": "nominal", "sort": null, "scale": {"domain": ["low", "high"], "range": ["#0000FF", "#FF0000"]},
        "legend": {"orient": "none", "legendX": 52, "legendY": 0, "title": "Risk", "titleOrient": "left", "titleFontSize": 9, "labelFontSize": 9, "symbolType": "square", "symbolSize": 70, "symbolStrokeColor": "#333333", "symbolStrokeWidth": 0.5, "rowPadding": 1, "titlePadding": 2, "symbolOpacity": 1}}}},
     {"width": 150, "height": 112, "view": {"stroke": null},
      "layer": [
       {"data": {"name": "violin"}, "mark": {"type": "area", "orient": "horizontal", "interpolate": "monotone", "stroke": "#222222", "strokeWidth": 0.5},
        "encoding": {
         "y": {"field": "y", "type": "quantitative", "scale": {"domain": [-4700, 6700], "nice": false, "zero": false}, "axis": {"values": [-2500, 0, 2500, 5000], "format": "d", "title": "TME score", "titleFontSize": 13, "domain": true, "domainColor": "#222222", "tickColor": "#222222", "grid": false, "labelColor": "#333333", "titlePadding": 3}},
         "x": {"field": "a", "type": "quantitative", "scale": {"domain": [0.4, 3.6], "nice": false, "zero": false}, "axis": {"values": [1, 2, 3], "labelExpr": "datum.value == 1 ? 'Stromal score' : datum.value == 2 ? 'Immune score' : 'Estimate score'", "labelAngle": -45, "labelAlign": "right", "labelBaseline": "middle", "labelFontSize": 11, "labelColor": "#333333", "labelOverlap": false, "title": null, "domain": true, "domainColor": "#222222", "tickColor": "#222222", "grid": false, "labelPadding": 2}},
         "x2": {"field": "b"},
         "color": {"field": "r", "type": "nominal", "scale": {"domain": ["low", "high"], "range": ["#0000FF", "#FF0000"]}, "legend": null},
         "detail": {"field": "v"}
        }},
       {"data": {"name": "box"}, "mark": {"type": "rule", "color": "white", "strokeWidth": 0.8},
        "encoding": {"x": {"field": "xc", "type": "quantitative"}, "y": {"field": "lo", "type": "quantitative"}, "y2": {"field": "q1"}}},
       {"data": {"name": "box"}, "mark": {"type": "rule", "color": "white", "strokeWidth": 0.8},
        "encoding": {"x": {"field": "xc", "type": "quantitative"}, "y": {"field": "q3", "type": "quantitative"}, "y2": {"field": "hi"}}},
       {"data": {"name": "box"}, "mark": {"type": "rect", "fillOpacity": 0, "stroke": "white", "strokeWidth": 0.8},
        "encoding": {"x": {"field": "xa", "type": "quantitative"}, "x2": {"field": "xb"}, "y": {"field": "q1", "type": "quantitative"}, "y2": {"field": "q3"}}},
       {"data": {"name": "box"}, "mark": {"type": "rule", "color": "white", "strokeWidth": 1},
        "encoding": {"x": {"field": "xa", "type": "quantitative"}, "x2": {"field": "xb"}, "y": {"field": "md", "type": "quantitative"}}},
       {"data": {"name": "stars"}, "mark": {"type": "text", "fontSize": 8, "color": "#444444", "baseline": "middle"},
        "encoding": {"x": {"field": "gi", "type": "quantitative"}, "y": {"datum": 5250}, "text": {"field": "t"}}}
      ]}
    ], "spacing": 1, "resolve": {"scale": {"color": "independent"}, "legend": {"color": "independent"}}},
   {"concat": [
    {"width": 133, "height": 26, "view": {"stroke": null}, "title": {"text": "(B)", "orient": "left", "angle": 0, "align": "left", "baseline": "middle", "anchor": "middle", "offset": 3}, "data": {"name": "risk"}, "mark": {"type": "area", "color": "#FFA500", "interpolate": "monotone", "clip": true, "line": {"color": "#333333", "strokeWidth": 0.6}}, "encoding": {"x": {"field": "x", "type": "quantitative", "scale": {"domain": [0.17, 2.6], "nice": false, "zero": false}, "axis": null}, "y": {"field": "d", "type": "quantitative", "scale": {"domain": [0, 1.04]}, "axis": null}}},
    {"width": 15, "height": 26, "view": {"stroke": null}, "data": {"values": []}, "mark": "point"},
    {"width": 133, "height": 139, "layer": [
     {"data": {"name": "B"}, "mark": {"type": "circle", "size": 7, "color": "black", "opacity": 1}, "encoding": {"x": {"field": "x", "type": "quantitative", "scale": {"domain": [0.17, 2.6], "nice": false, "zero": false}, "axis": {"values": [0.5, 1, 1.5, 2, 2.5], "format": ".1f", "title": "Risk score"}}, "y": {"field": "y", "type": "quantitative", "scale": {"domain": [-0.008, 0.366], "nice": false, "zero": false}, "axis": {"values": [0, 0.1, 0.2, 0.3], "format": ".1f", "title": "Macrophages M2"}}}},
     {"data": {"name": "Bf"}, "mark": {"type": "area", "color": "#999999", "opacity": 0.45}, "encoding": {"x": {"field": "x", "type": "quantitative"}, "y": {"field": "lo", "type": "quantitative"}, "y2": {"field": "hi"}}},
     {"data": {"name": "Bf"}, "mark": {"type": "line", "color": "#3366FF", "strokeWidth": 1}, "encoding": {"x": {"field": "x", "type": "quantitative"}, "y": {"field": "y", "type": "quantitative"}}},
     {"data": {"values": [{"t": "rho = 0.12, P = 0.013"}]}, "mark": {"type": "text", "align": "left", "baseline": "middle", "fontSize": 9}, "encoding": {"x": {"datum": 0.22}, "y": {"datum": 0.333}, "text": {"field": "t"}}}
    ]},
    {"width": 15, "height": 139, "view": {"stroke": null}, "data": {"name": "Bd"}, "mark": {"type": "area", "orient": "horizontal", "color": "#0000FF", "interpolate": "monotone", "clip": false}, "encoding": {"y": {"field": "v", "type": "quantitative", "scale": {"domain": [-0.008, 0.366], "nice": false, "zero": false}, "axis": null}, "x": {"field": "d", "type": "quantitative", "scale": {"domain": [0, 1]}, "axis": null}}}
   ], "columns": 2, "align": "each", "spacing": 1}
  ], "spacing": 4, "resolve": {"scale": {"color": "independent"}, "legend": {"color": "independent"}}},

  {"hconcat": [
   {"concat": [
    {"width": 133, "height": 24, "view": {"stroke": null}, "title": {"text": "(C)", "orient": "left", "angle": 0, "align": "left", "baseline": "middle", "anchor": "middle", "offset": 3}, "data": {"name": "risk"}, "mark": {"type": "area", "color": "#FFA500", "interpolate": "monotone", "clip": true, "line": {"color": "#333333", "strokeWidth": 0.6}}, "encoding": {"x": {"field": "x", "type": "quantitative", "scale": {"domain": [0.19, 2.36], "nice": false, "zero": false}, "axis": null}, "y": {"field": "d", "type": "quantitative", "scale": {"domain": [0, 1.04]}, "axis": null}}},
    {"width": 15, "height": 24, "view": {"stroke": null}, "data": {"values": []}, "mark": "point"},
    {"width": 133, "height": 135, "layer": [
     {"data": {"name": "C"}, "mark": {"type": "circle", "size": 7, "color": "black", "opacity": 1}, "encoding": {"x": {"field": "x", "type": "quantitative", "scale": {"domain": [0.19, 2.36], "nice": false, "zero": false}, "axis": {"values": [0.5, 1, 1.5, 2], "format": ".1f", "title": "Risk score"}}, "y": {"field": "y", "type": "quantitative", "scale": {"domain": [-0.009, 0.13], "nice": false, "zero": false}, "axis": {"values": [0, 0.04, 0.08, 0.12], "format": ".2f", "title": "Memory B cells"}}}},
     {"data": {"name": "Cf"}, "mark": {"type": "area", "color": "#999999", "opacity": 0.45}, "encoding": {"x": {"field": "x", "type": "quantitative"}, "y": {"field": "lo", "type": "quantitative"}, "y2": {"field": "hi"}}},
     {"data": {"name": "Cf"}, "mark": {"type": "line", "color": "#3366FF", "strokeWidth": 1}, "encoding": {"x": {"field": "x", "type": "quantitative"}, "y": {"field": "y", "type": "quantitative"}}},
     {"data": {"values": [{"t": "rho = 0.13, P = 0.02"}]}, "mark": {"type": "text", "align": "left", "baseline": "middle", "fontSize": 9}, "encoding": {"x": {"datum": 0.24}, "y": {"datum": 0.12}, "text": {"field": "t"}}}
    ]},
    {"width": 15, "height": 135, "view": {"stroke": null}, "data": {"name": "Cd"}, "mark": {"type": "area", "orient": "horizontal", "color": "#0000FF", "interpolate": "monotone", "clip": false}, "encoding": {"y": {"field": "v", "type": "quantitative", "scale": {"domain": [-0.009, 0.13], "nice": false, "zero": false}, "axis": null}, "x": {"field": "d", "type": "quantitative", "scale": {"domain": [0, 1]}, "axis": null}}}
   ], "columns": 2, "align": "each", "spacing": 1},
   {"concat": [
    {"width": 133, "height": 24, "view": {"stroke": null}, "title": {"text": "(D)", "orient": "left", "angle": 0, "align": "left", "baseline": "middle", "anchor": "middle", "offset": 3}, "data": {"name": "risk"}, "mark": {"type": "area", "color": "#FFA500", "interpolate": "monotone", "clip": true, "line": {"color": "#333333", "strokeWidth": 0.6}}, "encoding": {"x": {"field": "x", "type": "quantitative", "scale": {"domain": [0.17, 2.6], "nice": false, "zero": false}, "axis": null}, "y": {"field": "d", "type": "quantitative", "scale": {"domain": [0, 1.04]}, "axis": null}}},
    {"width": 15, "height": 24, "view": {"stroke": null}, "data": {"values": []}, "mark": "point"},
    {"width": 133, "height": 135, "layer": [
     {"data": {"name": "D"}, "mark": {"type": "circle", "size": 7, "color": "black", "opacity": 1}, "encoding": {"x": {"field": "x", "type": "quantitative", "scale": {"domain": [0.17, 2.6], "nice": false, "zero": false}, "axis": {"values": [0.5, 1, 1.5, 2, 2.5], "format": ".1f", "title": "Risk score"}}, "y": {"field": "y", "type": "quantitative", "scale": {"domain": [-0.01, 0.32], "nice": false, "zero": false}, "axis": {"values": [0, 0.1, 0.2, 0.3], "format": ".1f", "title": "Resting memory CD4+ T cells"}}}},
     {"data": {"name": "Df"}, "mark": {"type": "area", "color": "#999999", "opacity": 0.45}, "encoding": {"x": {"field": "x", "type": "quantitative"}, "y": {"field": "lo", "type": "quantitative"}, "y2": {"field": "hi"}}},
     {"data": {"name": "Df"}, "mark": {"type": "line", "color": "#3366FF", "strokeWidth": 1}, "encoding": {"x": {"field": "x", "type": "quantitative"}, "y": {"field": "y", "type": "quantitative"}}},
     {"data": {"values": [{"t": "rho = 0.27, P < 0.001"}]}, "mark": {"type": "text", "align": "left", "baseline": "middle", "fontSize": 9}, "encoding": {"x": {"datum": 0.22}, "y": {"datum": 0.29}, "text": {"field": "t"}}}
    ]},
    {"width": 15, "height": 135, "view": {"stroke": null}, "data": {"name": "Dd"}, "mark": {"type": "area", "orient": "horizontal", "color": "#0000FF", "interpolate": "monotone", "clip": false}, "encoding": {"y": {"field": "v", "type": "quantitative", "scale": {"domain": [-0.01, 0.32], "nice": false, "zero": false}, "axis": null}, "x": {"field": "d", "type": "quantitative", "scale": {"domain": [0, 1]}, "axis": null}}}
   ], "columns": 2, "align": "each", "spacing": 1}
  ], "spacing": 2},

  {"hconcat": [
   {"concat": [
    {"width": 133, "height": 24, "view": {"stroke": null}, "title": {"text": "(E)", "orient": "left", "angle": 0, "align": "left", "baseline": "middle", "anchor": "middle", "offset": 3}, "data": {"name": "risk"}, "mark": {"type": "area", "color": "#FFA500", "interpolate": "monotone", "clip": true, "line": {"color": "#333333", "strokeWidth": 0.6}}, "encoding": {"x": {"field": "x", "type": "quantitative", "scale": {"domain": [0.2, 2.62], "nice": false, "zero": false}, "axis": null}, "y": {"field": "d", "type": "quantitative", "scale": {"domain": [0, 1.04]}, "axis": null}}},
    {"width": 15, "height": 24, "view": {"stroke": null}, "data": {"values": []}, "mark": "point"},
    {"width": 133, "height": 136, "layer": [
     {"data": {"name": "E"}, "mark": {"type": "circle", "size": 7, "color": "black", "opacity": 1}, "encoding": {"x": {"field": "x", "type": "quantitative", "scale": {"domain": [0.2, 2.62], "nice": false, "zero": false}, "axis": {"values": [0.5, 1, 1.5, 2, 2.5], "format": ".1f", "title": "Risk score"}}, "y": {"field": "y", "type": "quantitative", "scale": {"domain": [-0.002, 0.086], "nice": false, "zero": false}, "axis": {"values": [0, 0.02, 0.04, 0.06, 0.08], "format": ".2f", "title": "Treg cells"}}}},
     {"data": {"name": "Ef"}, "mark": {"type": "area", "color": "#999999", "opacity": 0.45}, "encoding": {"x": {"field": "x", "type": "quantitative"}, "y": {"field": "lo", "type": "quantitative"}, "y2": {"field": "hi"}}},
     {"data": {"name": "Ef"}, "mark": {"type": "line", "color": "#3366FF", "strokeWidth": 1}, "encoding": {"x": {"field": "x", "type": "quantitative"}, "y": {"field": "y", "type": "quantitative"}}},
     {"data": {"values": [{"t": "rho = 0.13, P < 0.01"}]}, "mark": {"type": "text", "align": "left", "baseline": "middle", "fontSize": 9}, "encoding": {"x": {"datum": 0.25}, "y": {"datum": 0.0785}, "text": {"field": "t"}}}
    ]},
    {"width": 15, "height": 136, "view": {"stroke": null}, "data": {"name": "Ed"}, "mark": {"type": "area", "orient": "horizontal", "color": "#0000FF", "interpolate": "monotone", "clip": false}, "encoding": {"y": {"field": "v", "type": "quantitative", "scale": {"domain": [-0.002, 0.086], "nice": false, "zero": false}, "axis": null}, "x": {"field": "d", "type": "quantitative", "scale": {"domain": [0, 1]}, "axis": null}}}
   ], "columns": 2, "align": "each", "spacing": 1},
   {"concat": [
    {"width": 133, "height": 24, "view": {"stroke": null}, "title": {"text": "(F)", "orient": "left", "angle": 0, "align": "left", "baseline": "middle", "anchor": "middle", "offset": 3}, "data": {"name": "risk"}, "mark": {"type": "area", "color": "#FFA500", "interpolate": "monotone", "clip": true, "line": {"color": "#333333", "strokeWidth": 0.6}}, "encoding": {"x": {"field": "x", "type": "quantitative", "scale": {"domain": [0.17, 2.6], "nice": false, "zero": false}, "axis": null}, "y": {"field": "d", "type": "quantitative", "scale": {"domain": [0, 1.04]}, "axis": null}}},
    {"width": 15, "height": 24, "view": {"stroke": null}, "data": {"values": []}, "mark": "point"},
    {"width": 133, "height": 136, "layer": [
     {"data": {"name": "F"}, "mark": {"type": "circle", "size": 7, "color": "black", "opacity": 1}, "encoding": {"x": {"field": "x", "type": "quantitative", "scale": {"domain": [0.17, 2.6], "nice": false, "zero": false}, "axis": {"values": [0.5, 1, 1.5, 2, 2.5], "format": ".1f", "title": "Risk score"}}, "y": {"field": "y", "type": "quantitative", "scale": {"domain": [-0.008, 0.325], "nice": false, "zero": false}, "axis": {"values": [0, 0.1, 0.2, 0.3], "format": ".1f", "title": "Neutrophils"}}}},
     {"data": {"name": "Ff"}, "mark": {"type": "area", "color": "#999999", "opacity": 0.45}, "encoding": {"x": {"field": "x", "type": "quantitative"}, "y": {"field": "lo", "type": "quantitative"}, "y2": {"field": "hi"}}},
     {"data": {"name": "Ff"}, "mark": {"type": "line", "color": "#3366FF", "strokeWidth": 1}, "encoding": {"x": {"field": "x", "type": "quantitative"}, "y": {"field": "y", "type": "quantitative"}}},
     {"data": {"values": [{"t": "rho = 0.12, P = 0.015"}]}, "mark": {"type": "text", "align": "left", "baseline": "middle", "fontSize": 9}, "encoding": {"x": {"datum": 0.22}, "y": {"datum": 0.295}, "text": {"field": "t"}}}
    ]},
    {"width": 15, "height": 136, "view": {"stroke": null}, "data": {"name": "Fd"}, "mark": {"type": "area", "orient": "horizontal", "color": "#0000FF", "interpolate": "monotone", "clip": false}, "encoding": {"y": {"field": "v", "type": "quantitative", "scale": {"domain": [-0.008, 0.325], "nice": false, "zero": false}, "axis": null}, "x": {"field": "d", "type": "quantitative", "scale": {"domain": [0, 1]}, "axis": null}}}
   ], "columns": 2, "align": "each", "spacing": 1}
  ], "spacing": 2},

  {"hconcat": [
   {"concat": [
    {"width": 133, "height": 24, "view": {"stroke": null}, "title": {"text": "(G)", "orient": "left", "angle": 0, "align": "left", "baseline": "middle", "anchor": "middle", "offset": 3}, "data": {"name": "risk"}, "mark": {"type": "area", "color": "#FFA500", "interpolate": "monotone", "clip": true, "line": {"color": "#333333", "strokeWidth": 0.6}}, "encoding": {"x": {"field": "x", "type": "quantitative", "scale": {"domain": [0.2, 2.6], "nice": false, "zero": false}, "axis": null}, "y": {"field": "d", "type": "quantitative", "scale": {"domain": [0, 1.04]}, "axis": null}}},
    {"width": 15, "height": 24, "view": {"stroke": null}, "data": {"values": []}, "mark": "point"},
    {"width": 133, "height": 140, "layer": [
     {"data": {"name": "G"}, "mark": {"type": "circle", "size": 7, "color": "black", "opacity": 1}, "encoding": {"x": {"field": "x", "type": "quantitative", "scale": {"domain": [0.2, 2.6], "nice": false, "zero": false}, "axis": {"values": [0.5, 1, 1.5, 2, 2.5], "format": ".1f", "title": "Risk score"}}, "y": {"field": "y", "type": "quantitative", "scale": {"domain": [-0.021, 0.438], "nice": false, "zero": false}, "axis": {"values": [0, 0.1, 0.2, 0.3, 0.4], "format": ".1f", "title": "Activated dendritic cells"}}}},
     {"data": {"name": "Gf"}, "mark": {"type": "area", "color": "#999999", "opacity": 0.45}, "encoding": {"x": {"field": "x", "type": "quantitative"}, "y": {"field": "lo", "type": "quantitative"}, "y2": {"field": "hi"}}},
     {"data": {"name": "Gf"}, "mark": {"type": "line", "color": "#3366FF", "strokeWidth": 1}, "encoding": {"x": {"field": "x", "type": "quantitative"}, "y": {"field": "y", "type": "quantitative"}}},
     {"data": {"values": [{"t": "rho = -0.11, P = 0.026"}]}, "mark": {"type": "text", "align": "left", "baseline": "middle", "fontSize": 9}, "encoding": {"x": {"datum": 0.25}, "y": {"datum": 0.4}, "text": {"field": "t"}}}
    ]},
    {"width": 15, "height": 140, "view": {"stroke": null}, "data": {"name": "Gd"}, "mark": {"type": "area", "orient": "horizontal", "color": "#0000FF", "interpolate": "monotone", "clip": false}, "encoding": {"y": {"field": "v", "type": "quantitative", "scale": {"domain": [-0.021, 0.438], "nice": false, "zero": false}, "axis": null}, "x": {"field": "d", "type": "quantitative", "scale": {"domain": [0, 1]}, "axis": null}}}
   ], "columns": 2, "align": "each", "spacing": 1},
   {"concat": [
    {"width": 133, "height": 24, "view": {"stroke": null}, "title": {"text": "(H)", "orient": "left", "angle": 0, "align": "left", "baseline": "middle", "anchor": "middle", "offset": 3}, "data": {"name": "risk"}, "mark": {"type": "area", "color": "#FFA500", "interpolate": "monotone", "clip": true, "line": {"color": "#333333", "strokeWidth": 0.6}}, "encoding": {"x": {"field": "x", "type": "quantitative", "scale": {"domain": [0.17, 2.6], "nice": false, "zero": false}, "axis": null}, "y": {"field": "d", "type": "quantitative", "scale": {"domain": [0, 1.04]}, "axis": null}}},
    {"width": 15, "height": 24, "view": {"stroke": null}, "data": {"values": []}, "mark": "point"},
    {"width": 133, "height": 140, "layer": [
     {"data": {"name": "H"}, "mark": {"type": "circle", "size": 7, "color": "black", "opacity": 1}, "encoding": {"x": {"field": "x", "type": "quantitative", "scale": {"domain": [0.17, 2.6], "nice": false, "zero": false}, "axis": {"values": [0.5, 1, 1.5, 2, 2.5], "format": ".1f", "title": "Risk score"}}, "y": {"field": "y", "type": "quantitative", "scale": {"domain": [-0.008, 0.171], "nice": false, "zero": false}, "axis": {"values": [0, 0.05, 0.1, 0.15], "format": ".2f", "title": "Follicular helper T cells"}}}},
     {"data": {"name": "Hf"}, "mark": {"type": "area", "color": "#999999", "opacity": 0.45}, "encoding": {"x": {"field": "x", "type": "quantitative"}, "y": {"field": "lo", "type": "quantitative"}, "y2": {"field": "hi"}}},
     {"data": {"name": "Hf"}, "mark": {"type": "line", "color": "#3366FF", "strokeWidth": 1}, "encoding": {"x": {"field": "x", "type": "quantitative"}, "y": {"field": "y", "type": "quantitative"}}},
     {"data": {"values": [{"t": "rho = -0.2, P < 0.001"}]}, "mark": {"type": "text", "align": "left", "baseline": "middle", "fontSize": 9}, "encoding": {"x": {"datum": 0.22}, "y": {"datum": 0.156}, "text": {"field": "t"}}}
    ]},
    {"width": 15, "height": 140, "view": {"stroke": null}, "data": {"name": "Hd"}, "mark": {"type": "area", "orient": "horizontal", "color": "#0000FF", "interpolate": "monotone", "clip": false}, "encoding": {"y": {"field": "v", "type": "quantitative", "scale": {"domain": [-0.008, 0.171], "nice": false, "zero": false}, "axis": null}, "x": {"field": "d", "type": "quantitative", "scale": {"domain": [0, 1]}, "axis": null}}}
   ], "columns": 2, "align": "each", "spacing": 1}
  ], "spacing": 2}
 ], "spacing": 0, "resolve": {"scale": {"color": "independent"}, "legend": {"color": "independent"}}},

 {"vconcat": [
  {"width": 168, "height": 26, "view": {"stroke": null}, "title": {"text": "(I)", "orient": "left", "angle": 0, "align": "left", "baseline": "middle", "anchor": "middle", "offset": 88}, "data": {"values": []}, "mark": "point"},
  {"width": 168, "height": 539, "view": {"stroke": null},
   "data": {"name": "heat"},
   "encoding": {
    "x": {"field": "g", "type": "nominal", "sort": null, "scale": {"paddingInner": 0, "paddingOuter": 0}, "axis": {"title": null, "labelAngle": -60, "labelAlign": "right", "labelBaseline": "middle", "labelFontSize": 11, "labelFontStyle": "italic", "labelColor": "#333333", "ticks": false, "domain": false, "labelPadding": 5}},
    "y": {"field": "c", "type": "nominal", "sort": null, "scale": {"paddingInner": 0, "paddingOuter": 0}, "axis": {"title": null, "labelFontSize": 9.5, "labelColor": "#111111", "ticks": false, "domain": false, "labelPadding": 3, "labelLimit": 220}}
   },
   "layer": [
    {"mark": {"type": "rect", "stroke": "#BEBEBE", "strokeWidth": 2.5},
     "encoding": {"fill": {"field": "r", "type": "quantitative", "scale": {"type": "linear", "domain": [-0.24, 0, 0.27], "range": ["#6B6BB5", "#FFFFFF", "#E8312C"], "interpolate": "rgb"},
      "legend": {"orient": "none", "legendX": 184, "legendY": 233, "title": "Correlation", "titleFontSize": 10, "titleColor": "#111111", "gradientLength": 122, "gradientThickness": 15, "values": [-0.2, -0.1, 0, 0.1, 0.2], "format": ".1f", "labelFontSize": 10, "labelColor": "#111111", "titlePadding": 10, "labelOffset": 6}}}},
    {"mark": {"type": "text", "fontSize": 10, "color": "#333333", "baseline": "middle", "dy": 2},
     "encoding": {"text": {"field": "s"},
      "size": {"field": "s", "type": "ordinal", "scale": {"domain": ["***", "**", "*", ""], "range": [10, 10, 10, 10]},
       "legend": {"orient": "none", "legendX": 168, "legendY": 151, "title": null, "values": ["***", "**", "*"], "labelExpr": "datum.label == '***' ? '*** P < 0.001' : datum.label == '**' ? '**  P < 0.01' : '* P < 0.05'", "symbolOpacity": 0, "symbolStrokeWidth": 0, "labelFontSize": 9, "labelColor": "#111111", "labelOffset": 1, "rowPadding": 10}}}}
   ]}
 ], "spacing": 1, "resolve": {"scale": {"fill": "independent", "size": "independent"}, "legend": {"fill": "independent", "size": "independent"}}}
], "spacing": 2
}
